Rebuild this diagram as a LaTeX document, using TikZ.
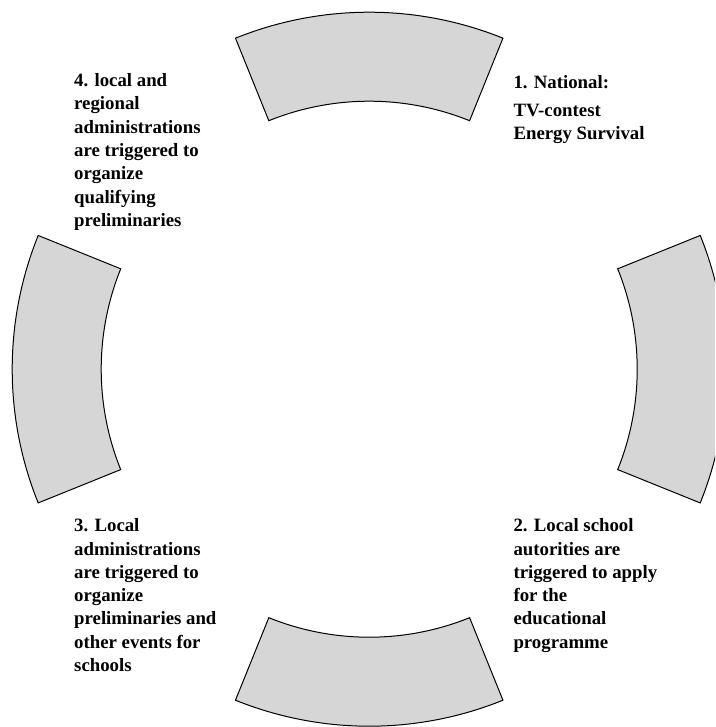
\documentclass[tikz,border=0pt]{standalone}
\usepackage{fontspec}
\setmainfont{Liberation Serif}
\begin{document}
\begin{tikzpicture}[x=1pt,y=1pt,
  seg/.style={fill={rgb,255:red,214;green,214;blue,214},draw=black,line width=1pt,line join=miter},
  lbl/.style={anchor=base west,inner sep=0pt,align=left,font=\fontsize{18.8pt}{23.3pt}\selectfont\bfseries}]
\clip (0,0) rectangle (715,-727);
\useasboundingbox (0,0) rectangle (715,-727);
\coordinate (c) at (369.2,-369.2);
\foreach \a in {90,0,270,180}{
  \draw[seg] ([shift={(\a-22:268)}]c) arc[start angle=\a-22,end angle=\a+22,radius=268]
    -- ([shift={(\a+22:357)}]c) arc[start angle=\a+22,end angle=\a-22,radius=357] -- cycle;
}
% base anchor = baseline of the last line
\node[lbl] (t1) at (513.3,-140) {1. National:\\[5pt]TV-contest\\Energy Survival};
\node[lbl] (t2) at (513.3,-648.2) {2. Local school\\autorities are\\triggered to apply\\for the\\educational\\programme};
\node[lbl] (t3) at (74,-671.5) {3. Local\\administrations\\are triggered to\\organize\\preliminaries and\\other events for\\schools};
\node[lbl] (t4) at (74,-226.5) {4. local and\\regional\\administrations\\are triggered to\\organize\\qualifying\\preliminaries};
\end{tikzpicture}
\end{document}
